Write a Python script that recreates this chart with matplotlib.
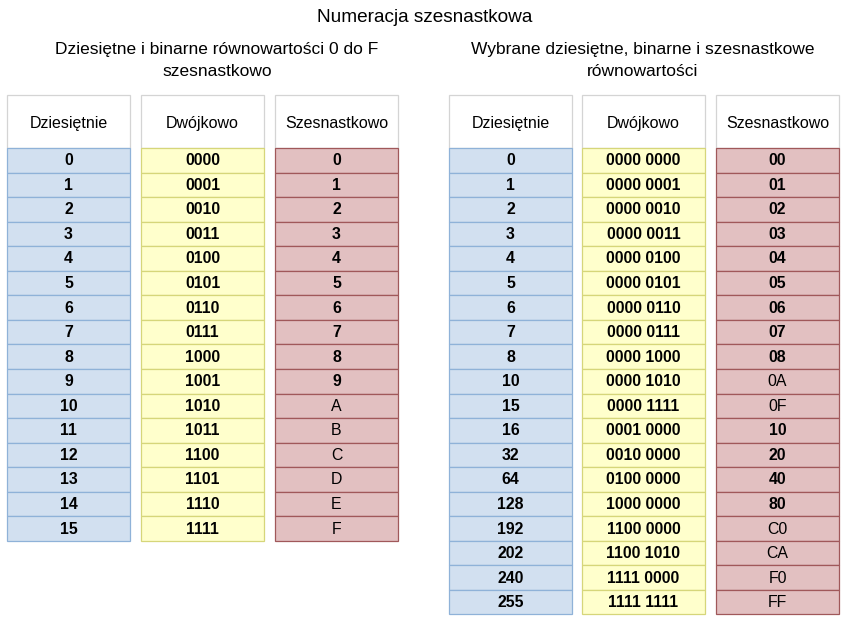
import matplotlib.pyplot as plt
from matplotlib.patches import Rectangle

plt.rcParams["font.family"] = ["Liberation Sans", "DejaVu Sans"]

# ── data ──────────────────────────────────────────────────────────────────────
title = "Numeracja szesnastkowa"
left_title = "Dziesiętne i binarne równowartości 0 do F\nszesnastkowo"
right_title = "Wybrane dziesiętne, binarne i szesnastkowe\nrównowartości"
headers = ["Dziesiętnie", "Dwójkowo", "Szesnastkowo"]

left_dec = ["0", "1", "2", "3", "4", "5", "6", "7", "8", "9",
            "10", "11", "12", "13", "14", "15"]
left_bin = ["0000", "0001", "0010", "0011", "0100", "0101", "0110", "0111",
            "1000", "1001", "1010", "1011", "1100", "1101", "1110", "1111"]
left_hex = ["0", "1", "2", "3", "4", "5", "6", "7", "8", "9",
            "A", "B", "C", "D", "E", "F"]

right_dec = ["0", "1", "2", "3", "4", "5", "6", "7", "8", "10", "15", "16",
             "32", "64", "128", "192", "202", "240", "255"]
right_bin = ["0000 0000", "0000 0001", "0000 0010", "0000 0011", "0000 0100",
             "0000 0101", "0000 0110", "0000 0111", "0000 1000", "0000 1010",
             "0000 1111", "0001 0000", "0010 0000", "0100 0000", "1000 0000",
             "1100 0000", "1100 1010", "1111 0000", "1111 1111"]
right_hex = ["00", "01", "02", "03", "04", "05", "06", "07", "08", "0A", "0F",
             "10", "20", "40", "80", "C0", "CA", "F0", "FF"]

# ── styles ────────────────────────────────────────────────────────────────────
col_styles = [("#d2e0f0", "#8fb2d8"),   # blue
              ("#ffffcc", "#d6d67a"),   # yellow
              ("#e2c0c1", "#a0585a")]   # red
left_x = [7, 141, 275]
right_x = [449, 582, 716]
col_w = 123
head_top, head_h = 95, 53
row_h = 24.55

fig = plt.figure(figsize=(8.47, 6.21), dpi=100)
ax = fig.add_axes([0, 0, 1, 1])
ax.set_xlim(0, 847)
ax.set_ylim(621, 0)
ax.axis("off")


def draw_table(xs, columns):
    for x, (fill, edge), head, values in zip(xs, col_styles, headers, columns):
        ax.add_patch(Rectangle((x, head_top), col_w, head_h,
                               facecolor="white", edgecolor="#d4d4d4", lw=0.9))
        ax.text(x + col_w / 2, head_top + head_h / 2 + 2, head,
                ha="center", va="center", fontsize=11.5)
        y0 = head_top + head_h
        for i, v in enumerate(values):
            y = y0 + i * row_h
            ax.add_patch(Rectangle((x, y), col_w, row_h,
                                   facecolor=fill, edgecolor=edge, lw=0.9))
            bold = v.replace(" ", "").isdigit()
            ax.text(x + col_w / 2, y + row_h / 2 + 0.5, v,
                    ha="center", va="center", fontsize=11.4,
                    fontweight="bold" if bold else "normal")


draw_table(left_x, [left_dec, left_bin, left_hex])
draw_table(right_x, [right_dec, right_bin, right_hex])

ax.text(425, 17, title, ha="center", va="center", fontsize=13.7)
ax.text(217, 60.5, left_title, ha="center", va="center", fontsize=12.5,
        linespacing=1.65)
ax.text(643, 60.5, right_title, ha="center", va="center", fontsize=12.5,
        linespacing=1.65)

fig.savefig("out.png", dpi=100)
